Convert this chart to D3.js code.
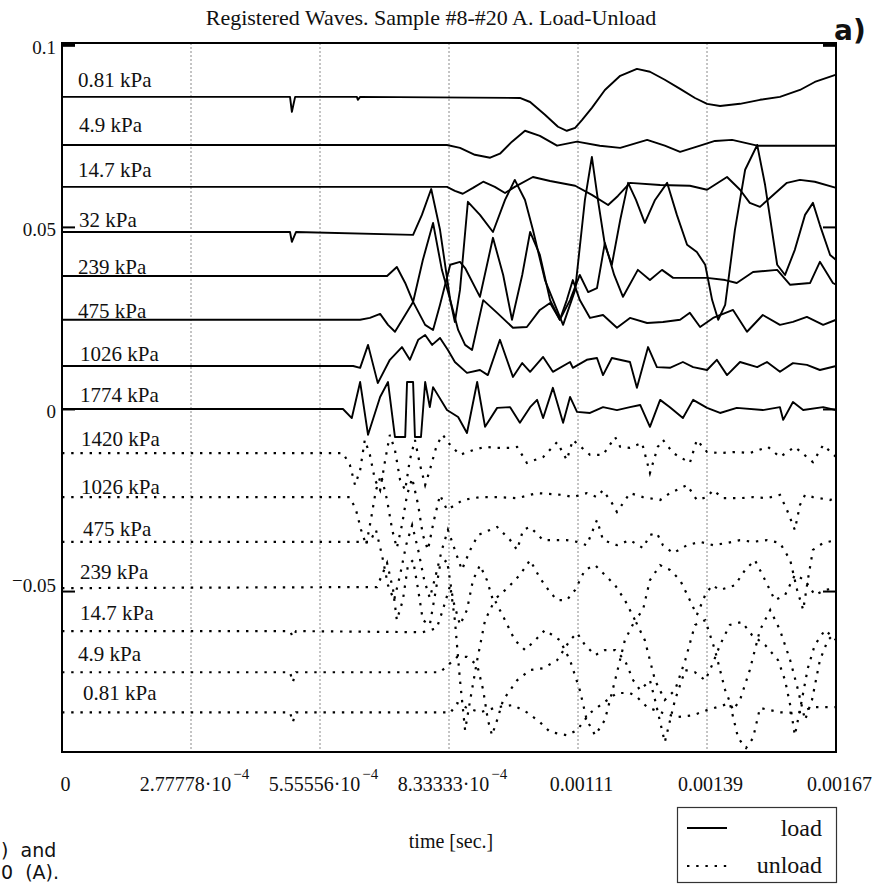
<!DOCTYPE html>
<html><head><meta charset="utf-8">
<script src="https://cdn.jsdelivr.net/npm/d3@7"></script>
<style>
html,body{margin:0;padding:0;background:#fff;}
svg{display:block;}
text{font-family:"Liberation Serif","Times New Roman",serif;fill:#111;}
</style></head><body>
<svg id="chart" width="880" height="884"></svg>
<script>
// ---------------- DATA ----------------
// each trace: [time in microseconds, amplitude in units of 1e-3]
const load_081 = [[0,85.7],[491,85.7],[495,81.6],[502,85.7],[635,85.7],[637,84.9],[642,85.7],[986,85.4],[1008,84.3],[1040,80.8],[1068,77.5],[1087,76.4],[1105,77.2],[1120,79.4],[1141,82.7],[1169,87.6],[1202,91.5],[1238,93.4],[1266,92.6],[1298,90.4],[1331,87.9],[1363,85.4],[1389,83.8],[1417,83.2],[1460,83.8],[1503,84.9],[1546,85.7],[1589,87.6],[1621,89.8],[1667,91.8]];
const load_49 = [[0,72.5],[829,72.5],[857,71.7],[889,69.8],[922,69.0],[943,70.1],[969,73.4],[997,76.4],[1029,75.0],[1066,72.3],[1109,73.4],[1158,72.3],[1202,71.7],[1260,73.9],[1298,72.3],[1331,70.6],[1374,72.3],[1406,73.6],[1443,73.9],[1497,72.3],[1568,72.3],[1667,72.3]];
const load_147 = [[0,61.0],[829,61.0],[846,59.9],[863,59.1],[885,60.7],[907,62.4],[932,61.0],[954,59.3],[975,61.0],[1014,63.7],[1051,62.6],[1105,61.3],[1141,58.8],[1176,56.0],[1197,58.5],[1223,62.1],[1288,61.5],[1352,61.3],[1389,60.2],[1432,63.7],[1460,60.2],[1481,56.6],[1503,55.5],[1529,58.5],[1561,62.1],[1589,62.9],[1621,62.4],[1667,60.7]];
const load_32 = [[0,48.6],[491,48.6],[495,45.9],[504,48.6],[756,47.8],[775,53.3],[795,60.4],[814,49.2],[836,29.9],[846,23.9],[857,32.7],[874,56.9],[900,53.3],[928,48.6],[954,57.4],[975,62.9],[997,57.4],[1014,49.2],[1040,35.4],[1079,23.1],[1105,32.7],[1126,57.4],[1141,69.2],[1154,57.4],[1169,45.1],[1184,39.6],[1202,51.9],[1219,62.1],[1236,57.4],[1255,51.1],[1277,57.4],[1303,62.1],[1324,53.3],[1346,45.1],[1367,43.1],[1385,39.6],[1400,29.9],[1413,24.5],[1428,28.6],[1449,49.2],[1471,65.7],[1497,72.5],[1514,61.5],[1540,39.6],[1557,36.8],[1578,43.7],[1600,53.3],[1617,56.6],[1632,50.5],[1654,42.3],[1667,40.9]];
const load_239 = [[0,36.5],[700,36.5],[721,39.0],[739,34.6],[756,29.4],[782,23.1],[799,21.7],[814,28.6],[836,39.6],[857,40.4],[868,38.7],[900,30.8],[928,47.0],[950,36.8],[969,24.5],[991,36.8],[1008,48.6],[1029,42.3],[1051,29.9],[1072,24.5],[1094,29.9],[1115,36.8],[1133,32.1],[1152,33.2],[1169,45.6],[1189,36.8],[1208,30.8],[1240,38.2],[1266,35.4],[1292,38.2],[1316,36.0],[1389,36.0],[1428,35.4],[1453,34.6],[1488,37.6],[1540,38.2],[1568,34.1],[1611,34.6],[1632,40.4],[1660,34.6],[1667,34.1]];
const load_475 = [[0,24.5],[642,24.5],[663,25.0],[685,26.1],[702,23.1],[717,21.2],[739,25.8],[756,29.4],[777,40.9],[799,51.1],[818,38.2],[836,29.9],[853,21.7],[868,17.6],[883,16.2],[907,29.9],[937,26.4],[971,22.3],[1001,22.5],[1029,27.2],[1051,29.1],[1072,24.5],[1087,29.9],[1100,35.4],[1115,29.9],[1137,25.0],[1165,25.8],[1195,22.3],[1223,25.0],[1260,23.6],[1294,23.9],[1331,24.5],[1352,26.4],[1374,22.5],[1402,25.0],[1445,27.2],[1475,21.2],[1509,25.8],[1546,23.1],[1574,23.9],[1604,25.3],[1639,23.1],[1667,24.5]];
const load_1026 = [[0,11.8],[627,11.8],[642,11.3],[659,17.6],[680,7.1],[706,13.5],[732,17.0],[749,13.5],[767,19.0],[782,20.3],[797,17.6],[814,19.5],[831,16.2],[846,12.9],[872,9.9],[900,10.7],[917,9.3],[943,19.0],[971,8.8],[991,12.6],[1008,10.2],[1036,14.3],[1057,10.2],[1094,12.9],[1100,11.3],[1130,13.5],[1152,14.0],[1165,9.3],[1184,14.0],[1223,12.9],[1238,5.8],[1262,17.0],[1281,11.5],[1309,11.3],[1337,12.9],[1359,11.5],[1389,10.7],[1410,13.5],[1432,9.3],[1460,12.9],[1497,11.5],[1518,12.9],[1546,10.2],[1574,12.6],[1604,12.1],[1632,10.7],[1667,11.8]];
const load_1774 = [[0,0],[605,0],[624,-2.5],[642,7.4],[659,-7.1],[685,3.3],[702,7.4],[717,-7.7],[739,-7.7],[743,7.4],[756,7.4],[760,-7.7],[773,-7.7],[782,7.4],[792,0.5],[799,6.0],[829,-0.3],[853,-2.2],[872,-6.6],[894,7.4],[911,-4.9],[937,0.3],[965,0.5],[986,-3.8],[1008,0.5],[1023,2.5],[1036,-2.5],[1057,5.8],[1079,-3.8],[1094,3.3],[1109,-0.8],[1137,-1.1],[1165,0.5],[1195,-0.3],[1223,0.5],[1245,1.1],[1266,-4.9],[1288,2.5],[1309,0.5],[1337,-2.5],[1359,2.5],[1389,0.3],[1417,-1.1],[1453,0.3],[1509,-0.3],[1546,0.5],[1553,-3.0],[1574,1.9],[1596,-0.3],[1639,0.5],[1667,-0.3]];

const unload_1420 = [[0,-12.1],[605,-12.1],[620,-15.4],[631,-20.9],[642,-16.8],[652,-8.5],[663,-12.6],[674,-19.5],[685,-22.3],[696,-14.0],[706,-7.1],[717,-11.3],[728,-19.5],[739,-22.3],[749,-14.0],[760,-8.5],[771,-15.4],[782,-20.9],[792,-16.8],[807,-9.9],[820,-7.1],[836,-9.9],[857,-12.6],[885,-11.3],[911,-10.4],[937,-10.7],[965,-10.7],[980,-10.4],[1001,-14.8],[1036,-13.2],[1066,-9.1],[1087,-14.0],[1100,-8.5],[1137,-12.6],[1165,-12.6],[1191,-7.7],[1202,-10.4],[1223,-10.7],[1249,-9.3],[1266,-17.6],[1283,-10.4],[1294,-8.5],[1316,-12.1],[1352,-14.8],[1367,-8.5],[1389,-11.8],[1417,-12.1],[1453,-11.8],[1481,-12.1],[1520,-10.4],[1546,-13.2],[1578,-10.4],[1617,-14.6],[1639,-9.9],[1667,-13.2]];
const unload_1026 = [[0,-24.2],[620,-24.2],[633,-27.7],[644,-33.2],[655,-37.4],[665,-30.5],[676,-22.3],[687,-18.1],[700,-25.0],[711,-33.2],[721,-38.2],[732,-31.9],[743,-23.6],[754,-19.0],[767,-26.4],[777,-34.6],[788,-38.7],[801,-30.5],[814,-23.6],[829,-27.7],[846,-26.4],[863,-25.0],[900,-24.2],[937,-24.2],[980,-24.5],[1023,-23.1],[1079,-23.6],[1100,-24.2],[1130,-23.1],[1152,-24.2],[1165,-22.3],[1184,-25.8],[1195,-28.3],[1223,-23.1],[1251,-24.2],[1288,-25.0],[1309,-23.1],[1346,-20.9],[1367,-25.0],[1389,-24.2],[1402,-22.3],[1423,-24.5],[1460,-24.5],[1488,-24.2],[1518,-24.5],[1546,-23.6],[1561,-27.7],[1578,-33.2],[1589,-26.4],[1600,-23.6],[1617,-24.2],[1654,-25.0],[1667,-24.2]];
const unload_475 = [[0,-36.5],[663,-36.5],[676,-33.2],[689,-40.1],[702,-48.4],[715,-52.5],[728,-45.6],[741,-37.4],[754,-31.9],[767,-38.7],[780,-47.0],[792,-51.9],[805,-45.6],[818,-38.7],[831,-33.2],[846,-38.7],[861,-44.2],[879,-38.7],[896,-34.6],[922,-33.2],[937,-32.4],[965,-36.0],[980,-38.7],[993,-33.2],[1008,-32.4],[1036,-36.0],[1066,-36.0],[1087,-36.0],[1109,-36.5],[1130,-37.4],[1152,-30.5],[1165,-36.0],[1195,-37.4],[1223,-36.0],[1251,-38.2],[1266,-34.6],[1281,-34.1],[1294,-37.4],[1316,-39.6],[1346,-37.4],[1374,-36.5],[1402,-37.4],[1432,-36.8],[1460,-36.0],[1488,-36.5],[1518,-36.0],[1546,-36.8],[1568,-41.5],[1583,-49.7],[1596,-55.2],[1606,-47.0],[1617,-38.7],[1639,-36.8],[1667,-36.0]];
const unload_239 = [[0,-49.2],[678,-48.9],[700,-42.3],[713,-49.7],[721,-58.0],[734,-52.5],[745,-42.9],[756,-41.5],[767,-49.7],[777,-58.0],[792,-59.3],[805,-49.7],[814,-42.9],[829,-41.5],[842,-52.5],[857,-59.3],[872,-55.2],[885,-47.0],[900,-42.9],[915,-47.0],[928,-52.5],[943,-51.1],[965,-48.4],[986,-45.6],[1008,-41.5],[1029,-46.4],[1051,-50.3],[1066,-52.5],[1087,-52.5],[1105,-49.7],[1126,-44.2],[1148,-42.9],[1169,-45.6],[1191,-48.4],[1212,-52.5],[1234,-58.0],[1251,-55.2],[1266,-47.0],[1288,-42.9],[1309,-44.2],[1331,-47.0],[1352,-52.5],[1367,-56.6],[1385,-51.1],[1400,-48.4],[1417,-49.7],[1449,-48.4],[1471,-44.2],[1492,-41.5],[1514,-47.0],[1535,-52.5],[1557,-51.1],[1578,-45.6],[1600,-47.0],[1621,-51.1],[1643,-49.7],[1667,-49.2]];
const unload_147 = [[0,-61.0],[491,-61.0],[497,-62.6],[504,-61.0],[777,-61.3],[807,-60.2],[820,-55.2],[836,-48.4],[846,-58.0],[857,-74.5],[868,-88.2],[879,-79.9],[894,-69.0],[911,-58.0],[932,-52.5],[954,-58.0],[975,-63.5],[997,-66.2],[1019,-63.5],[1040,-60.7],[1072,-63.5],[1094,-69.0],[1115,-77.2],[1130,-85.4],[1148,-89.6],[1169,-85.4],[1191,-74.5],[1212,-63.5],[1234,-58.0],[1255,-63.5],[1277,-74.5],[1298,-79.9],[1320,-77.2],[1342,-69.0],[1363,-59.3],[1385,-58.0],[1406,-66.2],[1428,-77.2],[1445,-82.7],[1460,-79.9],[1481,-71.7],[1503,-60.7],[1525,-55.2],[1546,-60.7],[1568,-69.0],[1585,-77.2],[1600,-85.4],[1615,-79.9],[1632,-69.0],[1649,-63.5],[1667,-61.3]];
const unload_49 = [[0,-72.3],[491,-72.3],[497,-75.0],[504,-72.3],[814,-72.3],[836,-69.8],[851,-68.1],[872,-68.1],[894,-70.3],[907,-77.2],[917,-85.4],[926,-89.6],[937,-85.4],[950,-79.9],[965,-77.2],[980,-74.5],[1008,-71.7],[1036,-71.2],[1066,-69.0],[1094,-63.5],[1109,-61.5],[1126,-64.8],[1148,-67.6],[1169,-66.2],[1191,-66.2],[1212,-69.0],[1230,-74.5],[1245,-77.2],[1266,-74.5],[1277,-79.9],[1298,-91.5],[1320,-79.9],[1342,-71.7],[1363,-72.3],[1385,-74.5],[1400,-70.3],[1417,-64.8],[1438,-59.3],[1464,-58.5],[1486,-62.1],[1514,-64.8],[1542,-69.0],[1557,-74.5],[1568,-81.3],[1578,-89.6],[1589,-82.7],[1606,-71.2],[1621,-64.8],[1643,-60.7],[1667,-63.5]];
const unload_081 = [[0,-83.3],[491,-83.3],[497,-86.0],[504,-83.3],[829,-83.3],[836,-83.5],[851,-80.8],[872,-82.1],[900,-83.3],[937,-81.9],[971,-81.3],[1001,-83.3],[1029,-86.0],[1051,-88.7],[1087,-89.6],[1109,-88.2],[1137,-83.5],[1165,-80.8],[1195,-78.0],[1223,-78.0],[1238,-79.1],[1260,-81.9],[1294,-83.5],[1324,-84.6],[1359,-84.1],[1389,-82.7],[1410,-81.9],[1438,-80.8],[1456,-90.4],[1473,-93.1],[1488,-90.4],[1503,-82.1],[1546,-83.3],[1583,-83.5],[1617,-81.9],[1654,-81.9],[1667,-81.9]];

const loadSeries = [load_081, load_49, load_147, load_32, load_239, load_475, load_1026, load_1774];
const loadLabels = ["0.81 kPa","4.9 kPa","14.7 kPa","32 kPa","239 kPa","475 kPa","1026 kPa","1774 kPa"];
const unloadSeries = [unload_1420, unload_1026, unload_475, unload_239, unload_147, unload_49, unload_081];
const unloadLabels = ["1420 kPa","1026 kPa","475 kPa","239 kPa","14.7 kPa","4.9 kPa","0.81 kPa"];

const xTicks = [0, 1/3600, 2/3600, 3/3600, 4/3600, 5/3600, 6/3600];
const xTickMain = ["0","2.77778\u00b710","5.55556\u00b710","8.33333\u00b710","0.00111","0.00139","0.00167"];
const xTickExp = ["","\u22124","\u22124","\u22124","","",""];
const yTicks = [0.1, 0.05, 0, -0.05];
const titleText = "Registered Waves. Sample #8-#20 A. Load-Unload";
const xTitle = "time [sec.]";
const legendNames = ["load","unload"];
const captionLines = [")\u00a0\u00a0and", "0\u00a0\u00a0(A)."];

// ---------------- LAYOUT ----------------
const plot = {left:62, right:836, top:43, bottom:752};
const loadLabelX = [78,79,78,79,78,78,80,80];
const loadLabelDy = [-10,-13,-10,-5,-2,-2,-5,-7];
const unloadLabelX = [81,81,83,80,80,78,83];
const unloadLabelDy = [-7,-3,-6,-9,-11,-11,-12];

const svg = d3.select("#chart");
const x = d3.scaleLinear().domain([0, 1/600]).range([plot.left, plot.right]);
const y = d3.scaleLinear().domain([-0.0942, 0.1005]).range([plot.bottom, plot.top]);
const line = d3.line().x(d => x(d[0]*1e-6)).y(d => y(d[1]*1e-3));

// grid lines
svg.append("g").selectAll("line").data(xTicks.slice(1,-1)).join("line")
  .attr("x1", d => x(d)).attr("x2", d => x(d))
  .attr("y1", plot.top).attr("y2", plot.bottom)
  .attr("stroke", "#8a8a8a").attr("stroke-width", 1).attr("stroke-dasharray", "2,2");

// traces
svg.append("g").selectAll("path").data(loadSeries).join("path")
  .attr("d", line).attr("fill","none").attr("stroke","#000")
  .attr("stroke-width",1.9).attr("stroke-linejoin","round");
svg.append("g").selectAll("path").data(unloadSeries).join("path")
  .attr("d", line).attr("fill","none").attr("stroke","#000")
  .attr("stroke-width",2.2).attr("stroke-dasharray","2.4,6.8");

// frame
svg.append("rect").attr("x", plot.left).attr("y", plot.top)
  .attr("width", plot.right-plot.left).attr("height", plot.bottom-plot.top)
  .attr("fill","none").attr("stroke","#000").attr("stroke-width",2);

// y axes
const yAxisL = svg.append("g").attr("transform",`translate(${plot.left},0)`)
  .call(d3.axisLeft(y).tickValues(yTicks).tickSizeInner(-13).tickSizeOuter(0).tickPadding(6)
        .tickFormat(d => String(d)));
const yAxisR = svg.append("g").attr("transform",`translate(${plot.right},0)`)
  .call(d3.axisRight(y).tickValues(yTicks).tickSizeInner(-13).tickSizeOuter(0).tickFormat(""));
[yAxisL, yAxisR].forEach(g => {
  g.select(".domain").remove();
  g.selectAll(".tick line").attr("stroke","#000").attr("stroke-width",2);
});
yAxisL.selectAll(".tick line").filter(d => d === 0.1).attr("stroke-width",3);
yAxisR.selectAll(".tick line").filter(d => d === 0.1).attr("stroke-width",3);
yAxisL.selectAll(".tick text").each(function(d){
  const t = d3.select(this);
  t.text(null).attr("font-size",19).attr("fill","#111").attr("dy","0.45em")
   .style("font-family",'"Liberation Serif",serif');
  if (d < 0) {
    t.append("tspan").attr("dy",-5).text("\u2212");
    t.append("tspan").attr("dy",5).text(String(-d));
  } else {
    t.text(String(d));
  }
});

// x axis
const xAxis = svg.append("g").attr("transform",`translate(0,${plot.bottom})`)
  .call(d3.axisBottom(x).tickValues(xTicks).tickSize(0).tickFormat(""));
xAxis.select(".domain").remove();
xAxis.selectAll(".tick").each(function(d,i){
  const t = d3.select(this).append("text").attr("x",3).attr("y",39)
    .attr("text-anchor","middle").attr("font-size",20).attr("fill","#111")
    .style("font-family",'"Liberation Serif",serif');
  t.append("tspan").text(xTickMain[i]);
  if (xTickExp[i]) t.append("tspan").attr("dx",2).attr("dy",-12).attr("font-size",15).text(xTickExp[i]);
});

// trace labels
svg.append("g").selectAll("text").data(loadLabels).join("text")
  .attr("x",(d,i)=>loadLabelX[i]).attr("y",(d,i)=>y(loadSeries[i][0][1]*1e-3)+loadLabelDy[i])
  .attr("font-size",21).text(d=>d);
svg.append("g").selectAll("text").data(unloadLabels).join("text")
  .attr("x",(d,i)=>unloadLabelX[i]).attr("y",(d,i)=>y(unloadSeries[i][0][1]*1e-3)+unloadLabelDy[i])
  .attr("font-size",21).text(d=>d);

// titles
svg.append("text").attr("x",431).attr("y",25).attr("text-anchor","middle").attr("font-size",22).text(titleText);
svg.append("text").attr("x",834).attr("y",40).style("font-family",'"DejaVu Sans",sans-serif')
  .style("font-weight","bold").attr("font-size",28).text("a)");
svg.append("text").attr("x",451).attr("y",848).attr("text-anchor","middle").attr("font-size",20).text(xTitle);

// caption fragments (cut at the left edge in the original page)
svg.append("g").selectAll("text").data(captionLines).join("text")
  .attr("x",1).attr("y",(d,i)=> i===0 ? 857 : 879)
  .style("font-family",'"DejaVu Sans",sans-serif').attr("font-size",19).text(d=>d);

// legend
const lg = svg.append("g");
lg.append("rect").attr("x",677.5).attr("y",807.5).attr("width",159).attr("height",75)
  .attr("fill","#fff").attr("stroke","#333").attr("stroke-width",1.2);
lg.append("line").attr("x1",687).attr("x2",727).attr("y1",828).attr("y2",828)
  .attr("stroke","#000").attr("stroke-width",1.9);
lg.append("line").attr("x1",687).attr("x2",727).attr("y1",866).attr("y2",866)
  .attr("stroke","#000").attr("stroke-width",2).attr("stroke-dasharray","2.4,6.8");
lg.selectAll("text.lg").data(legendNames).join("text").attr("class","lg")
  .attr("x",822).attr("y",(d,i)=> i===0 ? 836 : 873).attr("text-anchor","end")
  .attr("font-size",24).text(d=>d);
</script></body></html>
